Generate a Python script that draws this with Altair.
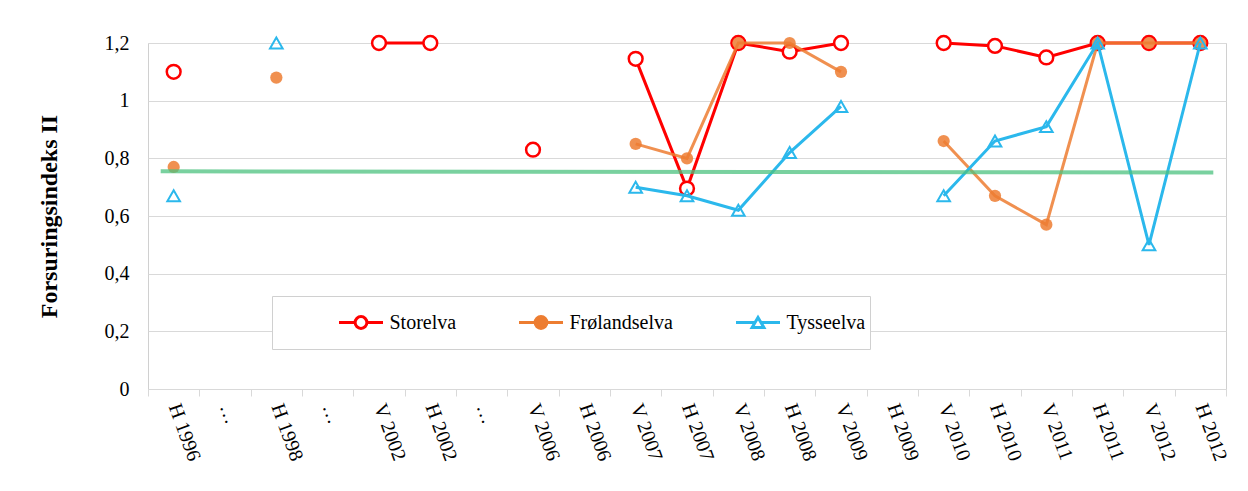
import altair as alt
import pandas as pd

# ---------------- data ----------------
categories = ["H 1996", "…", "H 1998", "…", "V 2002", "H 2002", "…", "V 2006", "H 2006",
              "V 2007", "H 2007", "V 2008", "H 2008", "V 2009", "H 2009", "V 2010",
              "H 2010", "V 2011", "H 2011", "V 2012", "H 2012"]

storelva = [1.10, None, None, None, 1.20, 1.20, None, 0.83, None, 1.145, 0.695, 1.20,
            1.17, 1.20, None, 1.20, 1.19, 1.15, 1.20, 1.20, 1.20]
frolandselva = [0.77, None, 1.08, None, None, None, None, None, None, 0.85, 0.80, 1.20,
                1.20, 1.10, None, 0.86, 0.67, 0.57, 1.20, 1.20, 1.20]
tysseelva = [0.67, None, 1.20, None, None, None, None, None, None, 0.70, 0.67, 0.62,
             0.82, 0.98, None, 0.67, 0.86, 0.91, 1.20, 0.50, 1.20]

series_names = ["Storelva", "Frølandselva", "Tysseelva"]
series_colors = ["#FF0000", "#ED7D31", "#2BB8EC"]

ref_start = "H 1996"
ref_end = "H 2012"
ref_values = [0.755, 0.751]

y_ticks = [0, 0.2, 0.4, 0.6, 0.8, 1.0, 1.2]

# unique keys for the repeated "…" categories
keys = [c if c != "…" else f"…#{i}" for i, c in enumerate(categories)]

rows = []
for name, vals in zip(series_names, [storelva, frolandselva, tysseelva]):
    seg = 0
    for k, v in zip(keys, vals):
        if v is None:
            seg += 1
            continue
        rows.append({"cat": k, "series": name, "value": v, "seg": f"{name}-{seg}"})
df = pd.DataFrame(rows)

ref_df = pd.DataFrame({"cat": [ref_start], "cat_end": [ref_end],
                       "value": [ref_values[0]], "value_end": [ref_values[1]]})

legend_df = pd.DataFrame({"series": series_names, "cat": [keys[0]] * 3, "value": [0.5] * 3})

# ---------------- encodings ----------------
SERIF = "Liberation Serif"
GRID = "#D9D9D9"

x_scale = alt.Scale(type="band", domain=keys, paddingInner=0, paddingOuter=0)
y_scale = alt.Scale(domain=[0, 1.2], nice=False, zero=True)

x_axis = alt.Axis(title=None, labelAngle=70, labelAlign="left", labelBaseline="middle",
                  labelPadding=8, tickSize=7, tickColor=GRID, domainColor=GRID,
                  tickBand="extent", grid=False, labelOverlap=False,
                  labelExpr="split(datum.label, '#')[0]",
                  labelFont=SERIF, labelFontSize=20, labelColor="black")
y_axis = alt.Axis(title="Forsuringsindeks II", values=y_ticks,
                  labelExpr="replace(format(datum.value, '~g'), '.', ',')",
                  labelFont=SERIF, labelFontSize=20, labelColor="black", labelPadding=19,
                  ticks=False, domain=False, grid=True, gridColor=GRID,
                  titleFont=SERIF, titleFontSize=24, titleFontWeight="bold",
                  titleColor="black", titlePadding=43)

X = alt.X("cat:N", scale=x_scale, axis=x_axis, sort=keys, bandPosition=0.5)
Y = alt.Y("value:Q", scale=y_scale, axis=y_axis)

base = alt.Chart(df)

layers = []
# Storelva
s = base.transform_filter(alt.datum.series == "Storelva")
layers.append(s.mark_line(color=series_colors[0], strokeWidth=3).encode(x=X, y=Y, detail="seg:N"))
layers.append(s.mark_point(shape="circle", filled=True, fill="white", stroke=series_colors[0],
                           strokeWidth=2.5, size=190, opacity=1).encode(x=X, y=Y))
# Frølandselva
f = base.transform_filter(alt.datum.series == "Frølandselva")
layers.append(f.mark_line(color=series_colors[1], strokeWidth=3, opacity=0.85)
              .encode(x=X, y=Y, detail="seg:N"))
layers.append(f.mark_point(shape="circle", filled=True, color=series_colors[1], size=150,
                           strokeWidth=0, opacity=0.85).encode(x=X, y=Y))
# Tysseelva
t = base.transform_filter(alt.datum.series == "Tysseelva")
layers.append(t.mark_line(color=series_colors[2], strokeWidth=3).encode(x=X, y=Y, detail="seg:N"))
layers.append(t.mark_point(shape="triangle-up", filled=False, color=series_colors[2], size=160,
                           strokeWidth=2, opacity=1).encode(x=X, y=Y))

# reference (green) line
layers.append(alt.Chart(ref_df).mark_rule(color="#4CC27F", strokeWidth=4, opacity=0.75,
                                          xOffset=-13, x2Offset=13, strokeCap="butt")
              .encode(x=X, x2="cat_end:N", y=Y, y2="value_end:Q"))

# legend symbols: line + marker placed in the right part of a wide symbol box,
# leaving blank space on the left (gives the legend box its inner margin)
L0 = 0.162    # start of the visible line
CX = 0.581    # marker centre
R = 0.112     # marker radius
TH = 0.096    # triangle half height
circle_path = (f"M{L0},0L{CX - R:.3f},0M{CX + R:.3f},0L1,0"
               f"M{CX + R:.3f},0A{R},{R},0,1,1,{CX - R:.3f},0A{R},{R},0,1,1,{CX + R:.3f},0Z")
triangle_path = (f"M{L0},0L{CX - R / 2:.3f},0M{CX + R / 2:.3f},0L1,0"
                 f"M{CX},{-TH}L{CX + R:.3f},{TH}L{CX - R:.3f},{TH}Z")

legend = alt.Legend(title=None, orient="none", legendX=124, legendY=253,
                    direction="horizontal", columns=3, columnPadding=0, padding=4.5,
                    fillColor="white", strokeColor="#D0D0D0", clipHeight=44,
                    symbolSize=105 * 105, symbolStrokeWidth=3, symbolOpacity=1,
                    labelFont=SERIF, labelFontSize=20, labelColor="black", labelOffset=5,
                    labelLimit=300)
layers.append(alt.Chart(legend_df).mark_point(opacity=0, filled=True).encode(
    x=X, y=Y,
    stroke=alt.Stroke("series:N", scale=alt.Scale(domain=series_names, range=series_colors),
                      legend=legend),
    fill=alt.Fill("series:N", scale=alt.Scale(domain=series_names,
                                              range=["white", series_colors[1], "white"]),
                  legend=legend),
    shape=alt.Shape("series:N", scale=alt.Scale(domain=series_names,
                                                range=[circle_path, circle_path, triangle_path]),
                    legend=legend),
))

chart = alt.layer(*layers).properties(
    width=1078, height=346,
    autosize=alt.AutoSizeParams(type="none"),
    padding={"left": 140, "top": 35, "right": 14, "bottom": 90},
).configure_view(stroke="#D0D0D0", strokeWidth=1)

chart.save("out.html", embed_options={"renderer": "svg", "actions": False})
